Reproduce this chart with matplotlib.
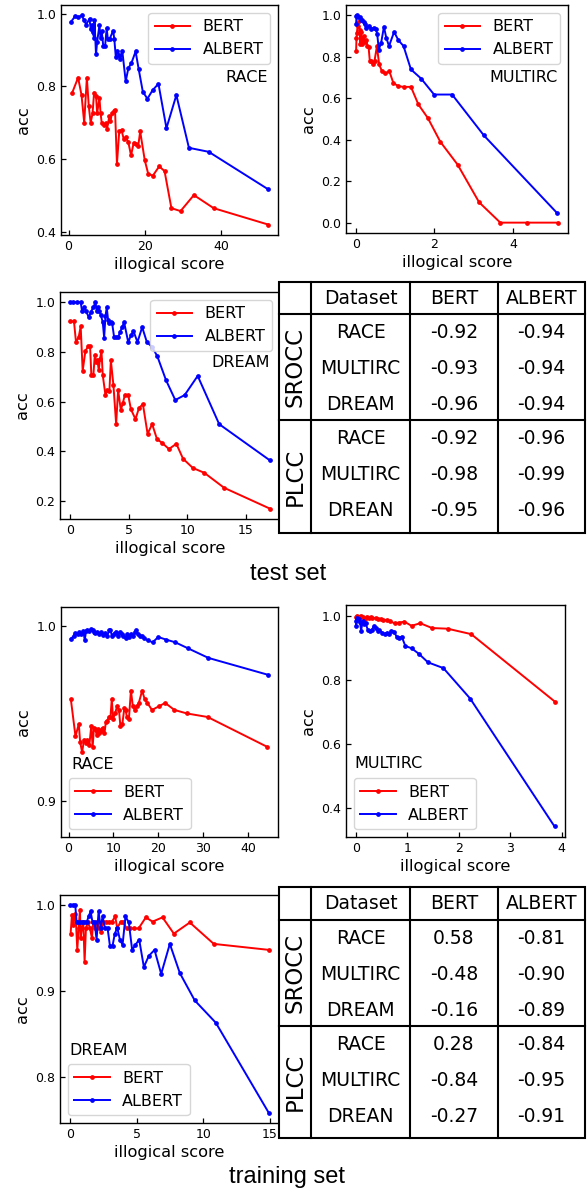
import matplotlib
matplotlib.use("Agg")
import matplotlib.pyplot as plt
from matplotlib.patches import Rectangle

plt.rcParams["font.family"] = ["DejaVu Sans"]

# ---- test set ----
race_te_bert_x = [0.9, 2.5, 3.4, 4.1, 4.8, 5.3, 5.8, 6.3, 6.7, 7.2, 7.5, 8.1, 8.4, 8.7, 9.3,
                  9.8, 10.1, 10.7, 11.0, 11.4, 11.9, 12.2, 12.7, 13.3, 13.9, 14.5, 15.0, 15.7,
                  16.4, 17.1, 17.8, 18.3, 18.8, 20.0, 20.9, 22.1, 23.8, 25.2, 27.0, 29.4, 32.9,
                  38.1, 52.4]
race_te_bert_y = [0.781, 0.824, 0.776, 0.700, 0.824, 0.746, 0.700, 0.726, 0.783, 0.774, 0.726,
                  0.769, 0.726, 0.700, 0.695, 0.698, 0.683, 0.718, 0.705, 0.726, 0.732, 0.735,
                  0.587, 0.676, 0.680, 0.654, 0.661, 0.646, 0.610, 0.645, 0.641, 0.637, 0.676,
                  0.597, 0.560, 0.554, 0.580, 0.567, 0.465, 0.457, 0.501, 0.465, 0.420]
race_te_albert_x = [0.6, 1.8, 2.5, 3.4, 4.1, 4.6, 5.5, 5.8, 6.2, 6.3, 6.7, 6.8, 7.2, 7.5, 8.1,
                    8.4, 8.7, 9.1, 9.6, 10.0, 10.3, 10.8, 11.7, 12.0, 12.4, 12.7, 13.2, 13.6,
                    14.1, 15.0, 15.7, 16.5, 17.6, 18.4, 19.5, 20.7, 22.1, 23.6, 25.7, 28.3, 31.6,
                    36.8, 52.4]
race_te_albert_y = [0.977, 0.994, 0.990, 0.995, 0.982, 0.970, 0.986, 0.958, 0.970, 0.949, 0.934,
                    0.982, 0.888, 0.922, 0.968, 0.934, 0.951, 0.912, 0.912, 0.960, 0.931, 0.931,
                    0.953, 0.931, 0.881, 0.898, 0.885, 0.874, 0.898, 0.814, 0.850, 0.864, 0.896,
                    0.848, 0.785, 0.766, 0.790, 0.807, 0.685, 0.776, 0.631, 0.620, 0.517]

multirc_te_bert_x = [0.0, 0.01, 0.02, 0.04, 0.06, 0.09, 0.11, 0.13, 0.16, 0.19, 0.22, 0.26, 0.29,
                     0.32, 0.35, 0.39, 0.43, 0.47, 0.53, 0.59, 0.66, 0.75, 0.85, 0.95, 1.08, 1.22,
                     1.40, 1.59, 1.83, 2.15, 2.59, 3.14, 3.68, 4.37, 5.15]
multirc_te_bert_y = [0.827, 0.89, 0.916, 0.95, 0.968, 0.93, 0.86, 0.92, 0.86, 0.90, 0.87, 0.88,
                     0.85, 0.845, 0.78, 0.78, 0.763, 0.78, 0.85, 0.763, 0.73, 0.72, 0.73, 0.674,
                     0.658, 0.655, 0.655, 0.57, 0.505, 0.39, 0.28, 0.098, 0.0, 0.0, 0.0]
multirc_te_albert_x = [0.0, 0.01, 0.03, 0.06, 0.10, 0.13, 0.16, 0.19, 0.22, 0.25, 0.32, 0.39,
                       0.45, 0.51, 0.54, 0.58, 0.64, 0.71, 0.77, 0.84, 0.97, 1.08, 1.21, 1.40,
                       1.66, 1.99, 2.45, 3.26, 5.12]
multirc_te_albert_y = [0.956, 0.997, 1.0, 0.99, 0.99, 0.98, 0.98, 0.97, 0.956, 0.94, 0.95, 0.935,
                       0.94, 0.932, 0.908, 0.835, 0.868, 0.945, 0.892, 0.852, 0.92, 0.88, 0.852,
                       0.739, 0.695, 0.618, 0.618, 0.421, 0.048]

dream_te_bert_x = [0.0, 0.34, 0.51, 0.74, 0.91, 1.08, 1.31, 1.54, 1.71, 1.82, 1.99, 2.11, 2.22,
                   2.34, 2.45, 2.56, 2.68, 2.79, 3.02, 3.19, 3.36, 3.48, 3.70, 3.93, 4.10, 4.33,
                   4.50, 4.67, 4.96, 5.19, 5.58, 5.87, 6.21, 6.61, 7.0, 7.41, 7.86, 8.43, 9.06,
                   9.63, 10.46, 11.45, 13.13, 17.04]
dream_te_bert_y = [0.923, 0.923, 0.840, 0.860, 0.903, 0.724, 0.804, 0.823, 0.823, 0.706, 0.706,
                   0.787, 0.760, 0.767, 0.727, 0.774, 0.804, 0.707, 0.627, 0.647, 0.644, 0.767,
                   0.667, 0.511, 0.647, 0.567, 0.594, 0.627, 0.627, 0.570, 0.530, 0.574, 0.591,
                   0.471, 0.510, 0.450, 0.434, 0.410, 0.431, 0.371, 0.334, 0.314, 0.254, 0.170]
dream_te_albert_x = [0.0, 0.28, 0.63, 0.91, 1.03, 1.20, 1.37, 1.60, 1.77, 1.99, 2.17, 2.28, 2.39,
                     2.51, 2.62, 2.79, 2.91, 3.02, 3.13, 3.25, 3.36, 3.48, 3.59, 3.76, 3.93, 4.10,
                     4.27, 4.44, 4.61, 4.96, 5.19, 5.41, 5.75, 6.15, 6.55, 7.0, 7.44, 8.18, 8.97,
                     9.77, 10.88, 12.71, 17.04]
dream_te_albert_y = [1.0, 1.0, 1.0, 1.0, 0.964, 0.98, 0.964, 0.94, 0.96, 0.98, 1.0, 0.964, 0.98,
                     0.964, 0.951, 0.92, 0.858, 0.943, 0.98, 0.927, 0.916, 0.92, 0.916, 0.86, 0.86,
                     0.86, 0.88, 0.90, 0.92, 0.84, 0.867, 0.884, 0.84, 0.90, 0.84, 0.82, 0.783,
                     0.687, 0.607, 0.627, 0.704, 0.51, 0.364]

# ---- training set ----
race_tr_bert_x = [0.51, 1.54, 2.28, 2.57, 3.01, 3.46, 3.90, 4.19, 4.63, 5.07, 5.37, 5.66, 5.96,
                  6.25, 6.54, 6.84, 7.13, 7.43, 7.72, 8.01, 8.31, 8.6, 9.04, 9.34, 9.63, 9.93,
                  10.37, 10.8, 11.25, 11.54, 11.99, 12.43, 12.72, 13.0, 13.46, 13.9, 14.34, 14.78,
                  15.22, 15.66, 16.4, 16.99, 17.57, 18.6, 20.07, 21.54, 23.6, 26.4, 31.0, 44.3]
race_tr_bert_y = [0.958, 0.937, 0.944, 0.934, 0.928, 0.935, 0.933, 0.935, 0.932, 0.943, 0.931,
                  0.942, 0.941, 0.938, 0.941, 0.939, 0.940, 0.941, 0.942, 0.939, 0.945, 0.946,
                  0.948, 0.948, 0.958, 0.947, 0.950, 0.954, 0.952, 0.943, 0.944, 0.953, 0.952,
                  0.948, 0.947, 0.963, 0.954, 0.952, 0.954, 0.956, 0.963, 0.958, 0.956, 0.952,
                  0.954, 0.956, 0.952, 0.950, 0.948, 0.931]
race_tr_albert_x = [0.51, 1.1, 1.54, 1.99, 2.43, 2.87, 3.31, 3.6, 3.9, 4.19, 4.63, 4.93, 5.37,
                    5.66, 5.96, 6.40, 6.84, 7.28, 7.72, 8.16, 8.6, 9.04, 9.34, 9.63, 10.07, 10.51,
                    10.96, 11.4, 11.84, 12.13, 12.72, 13.0, 13.46, 13.9, 14.34, 14.78, 15.07,
                    15.51, 15.96, 16.4, 16.84, 17.6, 18.75, 20.0, 21.8, 23.8, 26.7, 31.2, 44.5]
race_tr_albert_y = [0.9926, 0.9939, 0.9958, 0.9951, 0.9962, 0.9954, 0.9968, 0.9917, 0.9968,
                    0.9977, 0.997, 0.9981, 0.9973, 0.9966, 0.9958, 0.9962, 0.9951, 0.9962, 0.9947,
                    0.9958, 0.9939, 0.9973, 0.9977, 0.9943, 0.9954, 0.9966, 0.9939, 0.9962,
                    0.9951, 0.9939, 0.9928, 0.9951, 0.9935, 0.9954, 0.9939, 0.9962, 0.9973,
                    0.9954, 0.9943, 0.9939, 0.9928, 0.9917, 0.9905, 0.9935, 0.992, 0.9905, 0.987,
                    0.9816, 0.972]

multirc_tr_bert_x = [0.0, 0.02, 0.05, 0.09, 0.13, 0.17, 0.21, 0.25, 0.29, 0.32, 0.38, 0.43, 0.48,
                     0.53, 0.60, 0.66, 0.75, 0.84, 0.94, 1.08, 1.25, 1.48, 1.78, 2.24, 3.87]
multirc_tr_bert_y = [0.995, 1.0, 0.997, 1.0, 0.995, 0.989, 0.997, 0.992, 0.995, 0.992, 0.993,
                     0.988, 0.99, 0.986, 0.986, 0.982, 0.976, 0.978, 0.981, 0.968, 0.976, 0.961,
                     0.959, 0.942, 0.731]
multirc_tr_albert_x = [0.0, 0.005, 0.02, 0.05, 0.08, 0.10, 0.13, 0.16, 0.19, 0.23, 0.27, 0.31,
                       0.35, 0.38, 0.42, 0.45, 0.51, 0.56, 0.61, 0.65, 0.69, 0.74, 0.79, 0.84,
                       0.89, 0.96, 1.08, 1.22, 1.40, 1.70, 2.22, 3.86]
multirc_tr_albert_y = [0.968, 0.984, 0.993, 0.989, 0.979, 0.953, 0.982, 0.974, 0.976, 0.955,
                       0.953, 0.955, 0.968, 0.961, 0.953, 0.955, 0.947, 0.942, 0.947, 0.942,
                       0.953, 0.950, 0.934, 0.931, 0.934, 0.905, 0.898, 0.881, 0.854, 0.836,
                       0.741, 0.342]

dream_tr_bert_x = [0.05, 0.15, 0.25, 0.35, 0.45, 0.55, 0.65, 0.75, 0.8, 0.9, 1.0, 1.1, 1.2, 1.35,
                   1.5, 1.65, 1.75, 1.9, 2.05, 2.2, 2.35, 2.5, 2.7, 2.9, 3.15, 3.4, 3.55, 3.8,
                   4.0, 4.25, 4.5, 4.8, 5.15, 5.7, 6.2, 6.95, 7.8, 9.0, 10.8, 14.95]
dream_tr_bert_y = [0.967, 0.989, 0.977, 0.99, 0.981, 0.948, 0.973, 0.995, 0.962, 0.973, 0.981,
                   0.934, 0.973, 0.981, 0.973, 0.962, 0.981, 0.973, 0.981, 0.973, 0.969, 0.981,
                   0.981, 0.981, 0.981, 0.987, 0.973, 0.981, 0.981, 0.973, 0.973, 0.973, 0.973,
                   0.986, 0.981, 0.986, 0.967, 0.98, 0.955, 0.948]
dream_tr_albert_x = [0.0, 0.2, 0.4, 0.5, 0.65, 0.8, 0.95, 1.1, 1.25, 1.4, 1.55, 1.7, 1.85, 2.0,
                     2.15, 2.3, 2.45, 2.62, 2.82, 3.0, 3.2, 3.37, 3.55, 3.75, 3.95, 4.17, 4.42,
                     4.67, 4.92, 5.2, 5.55, 5.92, 6.35, 6.85, 7.5, 8.25, 9.37, 10.95, 14.92]
dream_tr_albert_y = [1.0, 1.0, 1.0, 0.98, 0.98, 0.98, 0.98, 0.98, 0.98, 0.987, 0.993, 0.98, 0.98,
                     0.96, 0.993, 0.974, 0.987, 0.974, 0.974, 0.953, 0.953, 0.967, 0.974, 0.96,
                     0.954, 0.987, 0.98, 0.948, 0.954, 0.96, 0.928, 0.941, 0.948, 0.92, 0.955,
                     0.921, 0.889, 0.863, 0.758]

# ---- correlation tables ----
table_cols = ["Dataset", "BERT", "ALBERT"]
srocc_rows = ["RACE", "MULTIRC", "DREAM"]
plcc_rows = ["RACE", "MULTIRC", "DREAN"]
test_srocc_bert = [-0.92, -0.93, -0.96]
test_srocc_albert = [-0.94, -0.94, -0.94]
test_plcc_bert = [-0.92, -0.98, -0.95]
test_plcc_albert = [-0.96, -0.99, -0.96]
train_srocc_bert = [0.58, -0.48, -0.16]
train_srocc_albert = [-0.81, -0.90, -0.89]
train_plcc_bert = [0.28, -0.84, -0.27]
train_plcc_albert = [-0.84, -0.95, -0.91]

W, H = 588, 1191
fig = plt.figure(figsize=(W / 100, H / 100), dpi=100)


def box(l, t, r, b):
    return [l / W, 1 - b / H, (r - l) / W, (b - t) / H]


def panel(rect, bx, by, ax_, ay_, name, legend_loc, txt_xy, txt_ha, xticks, yticks, ylim=None):
    ax = fig.add_axes(box(*rect))
    ax.plot(bx, by, color="red", lw=1.4, marker="o", ms=2.4, label="BERT")
    ax.plot(ax_, ay_, color="blue", lw=1.4, marker="o", ms=2.4, label="ALBERT")
    ax.set_xticks(xticks)
    ax.set_yticks(yticks)
    if ylim:
        ax.set_ylim(*ylim)
    ax.tick_params(direction="in", labelsize=9, length=3.5, width=0.9)
    for s in ax.spines.values():
        s.set_linewidth(1.0)
    ax.set_xlabel("illogical score", fontsize=11.7, labelpad=3)
    ax.set_ylabel("acc", fontsize=11.7)
    ax.legend(loc=legend_loc, fontsize=11.5, handlelength=2.2)
    ax.text(txt_xy[0], txt_xy[1], name, transform=ax.transAxes, ha=txt_ha, va="center",
            fontsize=11.5)
    return ax


panel((61, 5, 278, 235), race_te_bert_x, race_te_bert_y, race_te_albert_x, race_te_albert_y,
      "RACE", "upper right", (0.955, 0.685), "right", [0, 20, 40], [0.4, 0.6, 0.8, 1.0])
panel((346, 5, 568, 233), multirc_te_bert_x, multirc_te_bert_y, multirc_te_albert_x,
      multirc_te_albert_y, "MULTIRC", "upper right", (0.955, 0.682), "right", [0, 2, 4],
      [0.0, 0.2, 0.4, 0.6, 0.8, 1.0])
panel((60, 292, 280, 519), dream_te_bert_x, dream_te_bert_y, dream_te_albert_x,
      dream_te_albert_y, "DREAM", "upper right", (0.955, 0.689), "right", [0, 5, 10, 15],
      [0.2, 0.4, 0.6, 0.8, 1.0])
panel((61, 607, 278, 837), race_tr_bert_x, race_tr_bert_y, race_tr_albert_x, race_tr_albert_y,
      "RACE", "lower left", (0.05, 0.317), "left", [0, 10, 20, 30, 40], [0.9, 1.0],
      ylim=(0.8797, 1.0106))
panel((346, 605, 565, 837), multirc_tr_bert_x, multirc_tr_bert_y, multirc_tr_albert_x,
      multirc_tr_albert_y, "MULTIRC", "lower left", (0.037, 0.315), "left", [0, 1, 2, 3, 4],
      [0.4, 0.6, 0.8, 1.0])
panel((60, 895, 279, 1123), dream_tr_bert_x, dream_tr_bert_y, dream_tr_albert_x,
      dream_tr_albert_y, "DREAM", "lower left", (0.041, 0.316), "left", [0, 5, 10, 15],
      [0.8, 0.9, 1.0])

# overlay in pixel coordinates for the tables and captions
ov = fig.add_axes([0, 0, 1, 1], zorder=10)
ov.set_xlim(0, W)
ov.set_ylim(H, 0)
ov.axis("off")
ov.patch.set_visible(False)

col_x = [279, 311, 410, 498, 585]


def draw_table(top, head_bot, mid, bot, s_bert, s_albert, p_bert, p_albert):
    ov.add_patch(Rectangle((col_x[0], top), col_x[-1] - col_x[0], bot - top,
                           facecolor="white", edgecolor="black", lw=1.5))
    for y in (head_bot, mid):
        ov.plot([col_x[0], col_x[-1]], [y, y], color="black", lw=1.5)
    for x in col_x[1:-1]:
        ov.plot([x, x], [top, bot], color="black", lw=1.5)
    centers = [(col_x[i] + col_x[i + 1]) / 2 for i in range(4)]
    for c, name in zip(centers[1:], table_cols):
        ov.text(c, (top + head_bot) / 2, name, ha="center", va="center", fontsize=13.5)
    for btop, bbot, label, rows, vb, va_ in ((head_bot, mid, "SROCC", srocc_rows, s_bert, s_albert),
                                             (mid, bot, "PLCC", plcc_rows, p_bert, p_albert)):
        ov.text(centers[0], (btop + bbot) / 2, label, rotation=90, ha="center", va="center",
                fontsize=16.5)
        for i, (r, b, a) in enumerate(zip(rows, vb, va_)):
            y = btop + 19 + 35.5 * i
            ov.text(centers[1], y, r, ha="center", va="center", fontsize=13.5)
            ov.text(centers[2], y, f"{b:.2f}", ha="center", va="center", fontsize=13.5)
            ov.text(centers[3], y, f"{a:.2f}", ha="center", va="center", fontsize=13.5)


draw_table(282, 314, 420, 533, test_srocc_bert, test_srocc_albert, test_plcc_bert,
           test_plcc_albert)
draw_table(887, 920, 1026, 1138, train_srocc_bert, train_srocc_albert, train_plcc_bert,
           train_plcc_albert)

ov.text(288, 574, "test set", ha="center", va="center", fontsize=17,
        family=["Liberation Sans", "DejaVu Sans"])
ov.text(287, 1177, "training set", ha="center", va="center", fontsize=17,
        family=["Liberation Sans", "DejaVu Sans"])

fig.savefig("out.png", dpi=100)
